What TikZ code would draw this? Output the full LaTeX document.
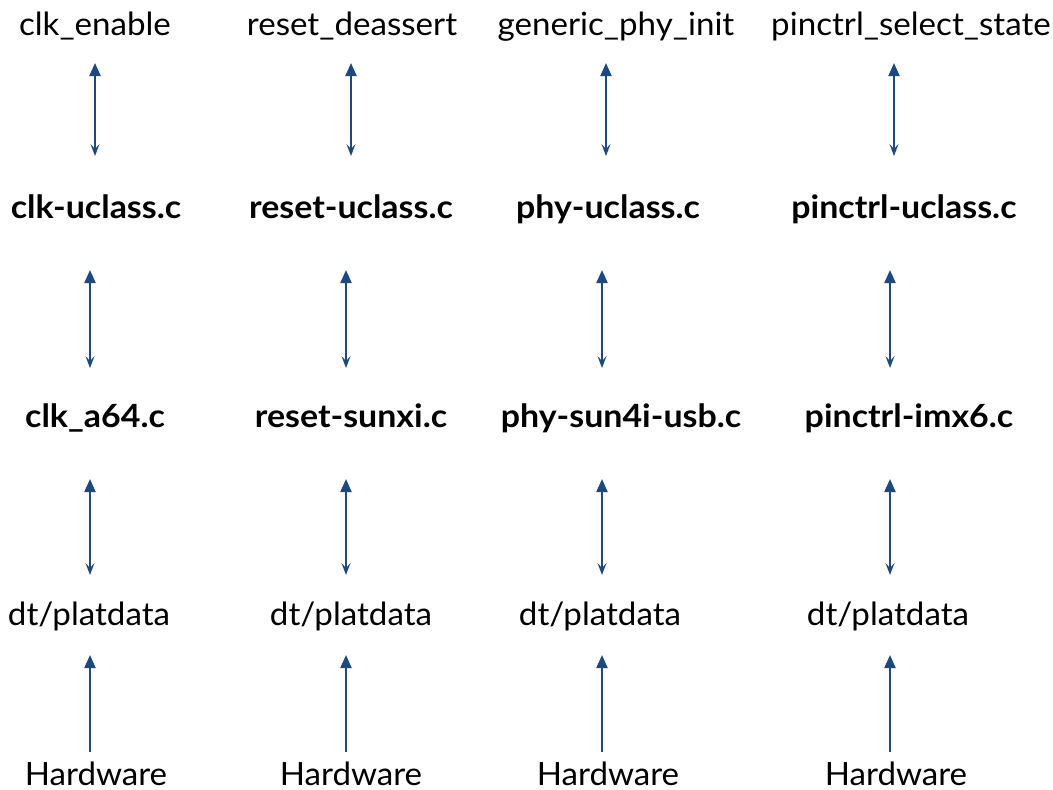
\documentclass[tikz,border=0pt]{standalone}
\usepackage{fontspec}
\setmainfont{Lato}[FakeStretch=1.035, BoldFeatures={FakeStretch=1.06}]
\usetikzlibrary{arrows.meta}
\definecolor{arrblue}{RGB}{31,73,125}
\tikzset{
  lbl/.style={anchor=base, inner sep=0pt, font=\fontsize{32}{38}\selectfont, text=black},
  blbl/.style={lbl, font=\fontsize{32}{38}\selectfont\bfseries},
  biarr/.style={draw=arrblue, line width=2pt, {Triangle[width=11pt,length=13pt]}-{Stealth[width=9pt,length=12pt,inset=5pt]}},
  uparr/.style={draw=arrblue, line width=2pt, -{Triangle[width=11pt,length=13pt]}}
}
\begin{document}
\begin{tikzpicture}[x=1pt,y=-1pt]
\useasboundingbox (0,0) rectangle (1053,790);
% row 1
\node[lbl] (t1) at (95,35) {clk\_enable};
\node[lbl] (t2) at (352,35) {reset\_deassert};
\node[lbl] (t3) at (616,35) {generic\_phy\_init};
\node[lbl] (t4) at (911,35) {pinctrl\_select\_state};
% row 2
\node[blbl] (u1) at (96,218) {clk-uclass.c};
\node[blbl] (u2) at (351,218) {reset-uclass.c};
\node[blbl] (u3) at (608,218) {phy-uclass.c};
\node[blbl] (u4) at (904,218) {pinctrl-uclass.c};
% row 3
\node[blbl] (v1) at (95,427) {clk\_a64.c};
\node[blbl] (v2) at (351,427) {reset-sunxi.c};
\node[blbl] (v3) at (621,427) {phy-sun4i-usb.c};
\node[blbl] (v4) at (909,427) {pinctrl-imx6.c};
% row 4
\node[lbl] (w1) at (89,625) {dt/platdata};
\node[lbl] (w2) at (351,625) {dt/platdata};
\node[lbl] (w3) at (600,625) {dt/platdata};
\node[lbl] (w4) at (888,625) {dt/platdata};
% row 5
\node[lbl] (h1) at (96,785) {Hardware};
\node[lbl] (h2) at (351,785) {Hardware};
\node[lbl] (h3) at (608,785) {Hardware};
\node[lbl] (h4) at (896,785) {Hardware};
% arrows row1-row2
\draw[biarr] ([xshift=0pt,yshift=-28pt]t1.base) -- ([xshift=-1pt,yshift=62pt]u1.base);
\draw[biarr] ([xshift=-1pt,yshift=-28pt]t2.base) -- ([xshift=0pt,yshift=62pt]u2.base);
\draw[biarr] ([xshift=-10pt,yshift=-28pt]t3.base) -- ([xshift=-2pt,yshift=62pt]u3.base);
\draw[biarr] ([xshift=-17pt,yshift=-28pt]t4.base) -- ([xshift=-10pt,yshift=62pt]u4.base);
% arrows row2-row3
\draw[biarr] ([xshift=-6pt,yshift=-52pt]u1.base) -- ([xshift=-5pt,yshift=59pt]v1.base);
\draw[biarr] ([xshift=-5pt,yshift=-52pt]u2.base) -- ([xshift=-5pt,yshift=59pt]v2.base);
\draw[biarr] ([xshift=-6pt,yshift=-52pt]u3.base) -- ([xshift=-19pt,yshift=59pt]v3.base);
\draw[biarr] ([xshift=-14pt,yshift=-52pt]u4.base) -- ([xshift=-19pt,yshift=59pt]v4.base);
% arrows row3-row4
\draw[biarr] ([xshift=-5pt,yshift=-52pt]v1.base) -- ([xshift=1pt,yshift=50pt]w1.base);
\draw[biarr] ([xshift=-5pt,yshift=-52pt]v2.base) -- ([xshift=-5pt,yshift=50pt]w2.base);
\draw[biarr] ([xshift=-19pt,yshift=-52pt]v3.base) -- ([xshift=2pt,yshift=50pt]w3.base);
\draw[biarr] ([xshift=-19pt,yshift=-52pt]v4.base) -- ([xshift=2pt,yshift=50pt]w4.base);
% arrows row4-row5
\draw[uparr] ([xshift=-6pt,yshift=33pt]h1.base) -- ([xshift=1pt,yshift=-30pt]w1.base);
\draw[uparr] ([xshift=-5pt,yshift=33pt]h2.base) -- ([xshift=-5pt,yshift=-30pt]w2.base);
\draw[uparr] ([xshift=-6pt,yshift=33pt]h3.base) -- ([xshift=2pt,yshift=-30pt]w3.base);
\draw[uparr] ([xshift=-6pt,yshift=33pt]h4.base) -- ([xshift=2pt,yshift=-30pt]w4.base);
\end{tikzpicture}
\end{document}
